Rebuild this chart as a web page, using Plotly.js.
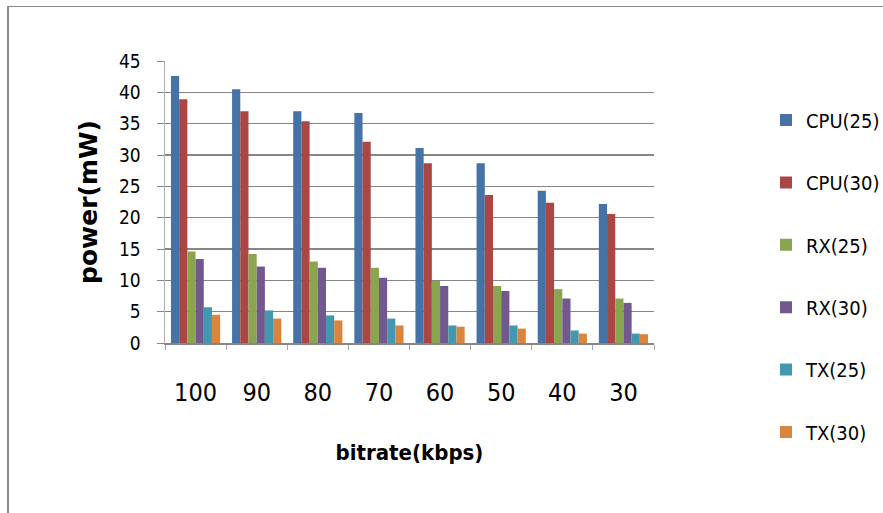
<!DOCTYPE html>
<html>
<head>
<meta charset="utf-8">
<script src="https://cdn.plot.ly/plotly-3.0.1.min.js"></script>
<style>
  html, body { margin: 0; padding: 0; background: #fff; }
  #wrap { position: relative; width: 883px; height: 513px; overflow: hidden; }
  #chart { position: absolute; left: 0; top: 0; width: 883px; height: 513px; }
  #frame {
    position: absolute; left: 7px; top: 6px; right: -10px; bottom: -10px;
    border-left: 2px solid #8a8a8a; border-top: 1px solid #8a8a8a;
    pointer-events: none;
  }
</style>
</head>
<body>
<div id="wrap">
  <div id="chart"></div>
  <div id="frame"></div>
</div>
<script>
// Power consumption per component at each bitrate (mW)
const bitrates = ['100', '90', '80', '70', '60', '50', '40', '30'];

const cpu25 = [42.6, 40.5, 37.0, 36.7, 31.1, 28.7, 24.3, 22.2];
const cpu30 = [38.9, 37.0, 35.4, 32.1, 28.7, 23.6, 22.4, 20.6];
const rx25  = [14.6, 14.2, 13.0, 12.0, 9.9, 9.1, 8.6, 7.1];
const rx30  = [13.4, 12.2, 12.0, 10.4, 9.1, 8.3, 7.1, 6.4];
const tx25  = [5.7, 5.2, 4.4, 3.9, 2.8, 2.8, 2.0, 1.5];
const tx30  = [4.5, 3.9, 3.6, 2.8, 2.6, 2.3, 1.5, 1.4];

const seriesNames = ['CPU(25)', 'CPU(30)', 'RX(25)', 'RX(30)', 'TX(25)', 'TX(30)'];
const seriesValues = [cpu25, cpu30, rx25, rx30, tx25, tx30];
const seriesColors = ['#4572A7', '#AA4643', '#89A54E', '#71588F', '#4198AF', '#DB843D'];

const narrow = '"DejaVu Sans Condensed", "Liberation Sans", sans-serif';

const traces = seriesNames.map((name, i) => ({
  type: 'bar',
  name: name,
  x: bitrates,
  y: seriesValues[i],
  legendgroup: name,
  marker: { color: seriesColors[i], line: { width: 0 } },
  hoverinfo: 'x+y+name'
}));

const layout = {
  width: 883,
  height: 513,
  margin: { l: 165, r: 229, t: 61, b: 170, autoexpand: false },
  paper_bgcolor: 'rgba(0,0,0,0)',
  plot_bgcolor: 'rgba(0,0,0,0)',
  barmode: 'group',
  bargap: 0.195,
  bargroupgap: 0,
  font: { family: narrow, color: '#000' },
  xaxis: {
    type: 'category',
    tickson: 'boundaries',
    ticks: 'outside',
    ticklen: 5,
    tickcolor: '#a6a6a6',
    tickwidth: 1,
    showline: true,
    linecolor: '#868686',
    linewidth: 1.5,
    showgrid: false,
    automargin: false,
    tickfont: { family: narrow, size: 25, color: '#000' },
    ticklabelstandoff: 26,
    title: {
      text: 'bitrate(kbps)',
      font: { family: narrow, size: 22, color: '#000', weight: 'bold' },
      standoff: 39
    }
  },
  yaxis: {
    range: [0, 45],
    dtick: 5,
    tick0: 0,
    ticks: 'outside',
    ticklen: 7,
    tickcolor: '#868686',
    showline: true,
    linecolor: '#b0b0b0',
    linewidth: 1.5,
    showgrid: true,
    gridcolor: '#868686',
    gridwidth: 1.4,
    zeroline: false,
    automargin: false,
    tickfont: { family: narrow, size: 19, color: '#000' },
    ticklabelstandoff: 12,
    title: {
      text: 'power(mW)',
      font: { family: '"DejaVu Sans", sans-serif', size: 25, color: '#000', weight: 'bold' },
      standoff: 14
    }
  },
  legend: {
    x: 1.229,
    xanchor: 'left',
    y: 0.86,
    yanchor: 'top',
    traceorder: 'grouped',
    tracegroupgap: 33.4,
    maxheight: 480,
    font: { family: narrow, size: 20, color: '#000' },
    bgcolor: 'rgba(0,0,0,0)',
    borderwidth: 0
  },
  showlegend: true
};

Plotly.newPlot('chart', traces, layout, { displayModeBar: false, staticPlot: true });
</script>
</body>
</html>
